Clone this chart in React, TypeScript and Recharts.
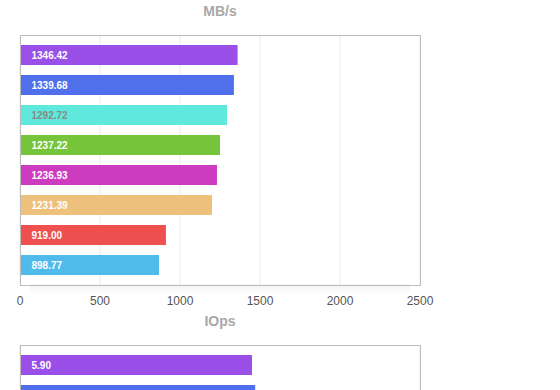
import { BarChart, Bar, XAxis, YAxis, CartesianGrid, Cell, LabelList } from 'recharts';

// MB/s chart
const mbNames = ['a', 'b', 'c', 'd', 'e', 'f', 'g', 'h'];
const mbValues = [1360, 1337, 1294, 1250, 1231, 1200, 912, 869];
const mbLabels = ['1346.42', '1339.68', '1292.72', '1237.22', '1236.93', '1231.39', '919.00', '898.77'];
const mbTicks = [0, 500, 1000, 1500, 2000, 2500];

// IOps chart (only the top two bars are in view, the rest is below the window)
const ioNames = ['a', 'b'];
const ioValues = [5.8, 5.88];
const ioLabels = ['5.90', ''];
const ioTicks = [0, 2, 4, 6, 8, 10];

const colors = ['#9a4fe9', '#4f70ea', '#5fe8dc', '#75c43a', '#cd3bc0', '#edc07c', '#ee4f4f', '#50bbeb'];
const labelColors = ['#fff', '#fff', '#888', '#fff', '#fff', '#fff', '#fff', '#fff'];

const FONT = '"Liberation Sans", Arial, Helvetica, sans-serif';

function Panel({ names, values, labels, ticks, title, top, showTicks = true }: {
  names: string[]; values: number[]; labels: string[]; ticks: number[]; title: string; top: number; showTicks?: boolean;
}) {
  const data = names.map((n, i) => ({ name: n, value: values[i], label: labels[i] }));
  const plotH = 9 + names.length * 30;
  const height = 35 + plotH + 26;

  const renderLabel = (p: any) => {
    if (!p.value) return null;
    const i = data.findIndex(d => d.label === p.value);
    return (
      <text
        x={Number(p.x) + 11.5}
        y={Number(p.y) + Number(p.height) / 2}
        dy="0.36em"
        fill={labelColors[i] || '#fff'}
        fontSize={10}
        fontWeight="bold"
        fontFamily={FONT}
      >
        {p.value}
      </text>
    );
  };

  return (
    <div style={{ position: 'absolute', left: 0, top, width: 560, height }}>
      <div
        style={{
          position: 'absolute', left: 20, width: 400, top: 3, lineHeight: '16px',
          textAlign: 'center', fontSize: 14, fontWeight: 'bold', color: '#a8a8a8', fontFamily: FONT
        }}
      >
        {title}
      </div>
      {/* soft shadow under the plot box */}
      <div
        style={{
          position: 'absolute', left: 30, width: 380, top: 35 + plotH, height: 10,
          background: 'linear-gradient(rgba(0,0,0,0.05), rgba(0,0,0,0))'
        }}
      />
      <div style={{ position: 'absolute', left: 0, top: 0 }}>
        <BarChart
          width={560}
          height={height}
          data={data}
          layout="vertical"
          margin={{ top: 35, right: 140, bottom: 0, left: 20 }}
          barSize={20}
        >
          <CartesianGrid horizontal={false} stroke="#ebebeb" />
          <XAxis
            type="number"
            domain={[ticks[0], ticks[ticks.length - 1]]}
            ticks={ticks}
            interval={0}
            height={26}
            axisLine={false}
            tickLine={false}
            tickSize={6}
            tickMargin={6}
            tick={showTicks ? { fill: '#555', fontSize: 12, fontFamily: FONT } : false}
          />
          <YAxis type="category" dataKey="name" hide padding={{ top: 5, bottom: 4 }} />
          <Bar dataKey="value" isAnimationActive={false}>
            {data.map((_, i) => (
              <Cell key={i} fill={colors[i]} />
            ))}
            <LabelList dataKey="label" content={renderLabel} />
          </Bar>
        </BarChart>
      </div>
      {/* plot frame */}
      <div
        style={{
          position: 'absolute', left: 19.5, top: 34.5, width: 399, height: plotH,
          border: '1px solid #bdbdbd', pointerEvents: 'none'
        }}
      />
    </div>
  );
}

export default function App() {
  return (
    <div
      style={{
        position: 'fixed', left: 0, top: 0, width: 560, height: 390,
        overflow: 'hidden', background: '#fff'
      }}
    >
      <Panel names={mbNames} values={mbValues} labels={mbLabels} ticks={mbTicks} title="MB/s" top={0} />
      <Panel names={ioNames} values={ioValues} labels={ioLabels} ticks={ioTicks} title="IOps" top={310} showTicks={false} />
    </div>
  );
}
